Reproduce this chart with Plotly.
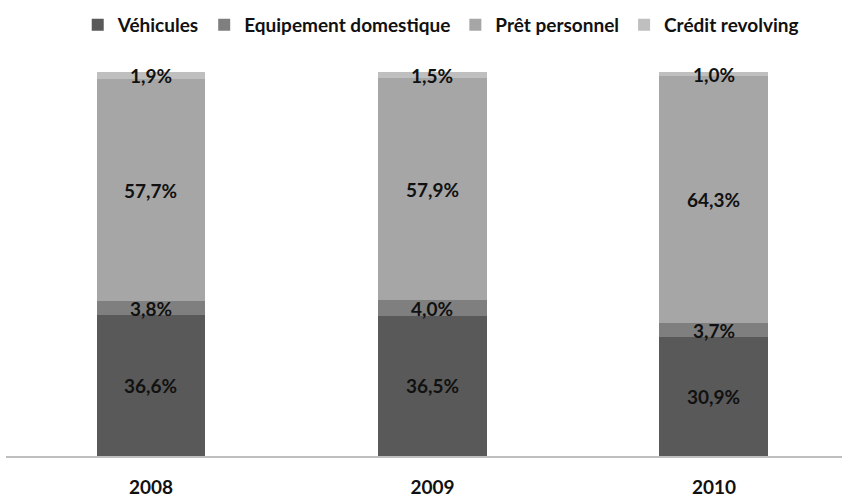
import plotly.graph_objects as go

years = ["2008", "2009", "2010"]
series_names = ["Véhicules", "Equipement domestique", "Prêt personnel", "Crédit revolving"]
vehicules = [36.6, 36.5, 30.9]
equipement = [3.8, 4.0, 3.7]
pret = [57.7, 57.9, 64.3]
revolving = [1.9, 1.5, 1.0]
colors = ["#595959", "#7f7f7f", "#a6a6a6", "#bfbfbf"]

series_values = [vehicules, equipement, pret, revolving]
FONT = "Lato, Calibri, Arial, sans-serif"

fig = go.Figure()
for name, vals, col in zip(series_names, series_values, colors):
    fig.add_trace(go.Bar(
        x=years, y=vals, name=name,
        marker=dict(color=col, line=dict(width=0)),
        width=0.387,
    ))

# Value labels centred on each stacked segment (x given as category index)
base = [0.0] * len(years)
for vals in series_values:
    for i, v in enumerate(vals):
        fig.add_annotation(
            x=i, y=base[i] + v / 2, xref="x", yref="y",
            text=f"{v:.1f}%".replace(".", ","),
            showarrow=False,
            font=dict(family=FONT, size=19, color="#111111", weight="bold"),
        )
        base[i] += v

fig.update_layout(
    barmode="stack",
    width=842, height=500,
    margin=dict(l=6, r=0, t=72, b=44),
    paper_bgcolor="white",
    plot_bgcolor="white",
    font=dict(family=FONT, size=14, color="#111111"),
    showlegend=True,
    legend=dict(
        orientation="h",
        x=0.52, xanchor="center",
        y=0.988, yref="container", yanchor="top",
        font=dict(family=FONT, size=19, color="#111111", weight="bold"),
        itemwidth=30,
        traceorder="normal",
        bgcolor="rgba(0,0,0,0)",
    ),
    xaxis=dict(
        type="category",
        range=[-0.515, 2.455],
        automargin=False,
        showline=True, linecolor="#bfbfbf", linewidth=2,
        ticks="", showgrid=False, zeroline=False,
        ticklabelstandoff=13,
        tickfont=dict(family=FONT, size=19, color="#111111", weight="bold"),
    ),
    yaxis=dict(
        range=[0, 100],
        visible=False,
        showgrid=False, zeroline=False,
    ),
)

fig.write_html("out.html")
